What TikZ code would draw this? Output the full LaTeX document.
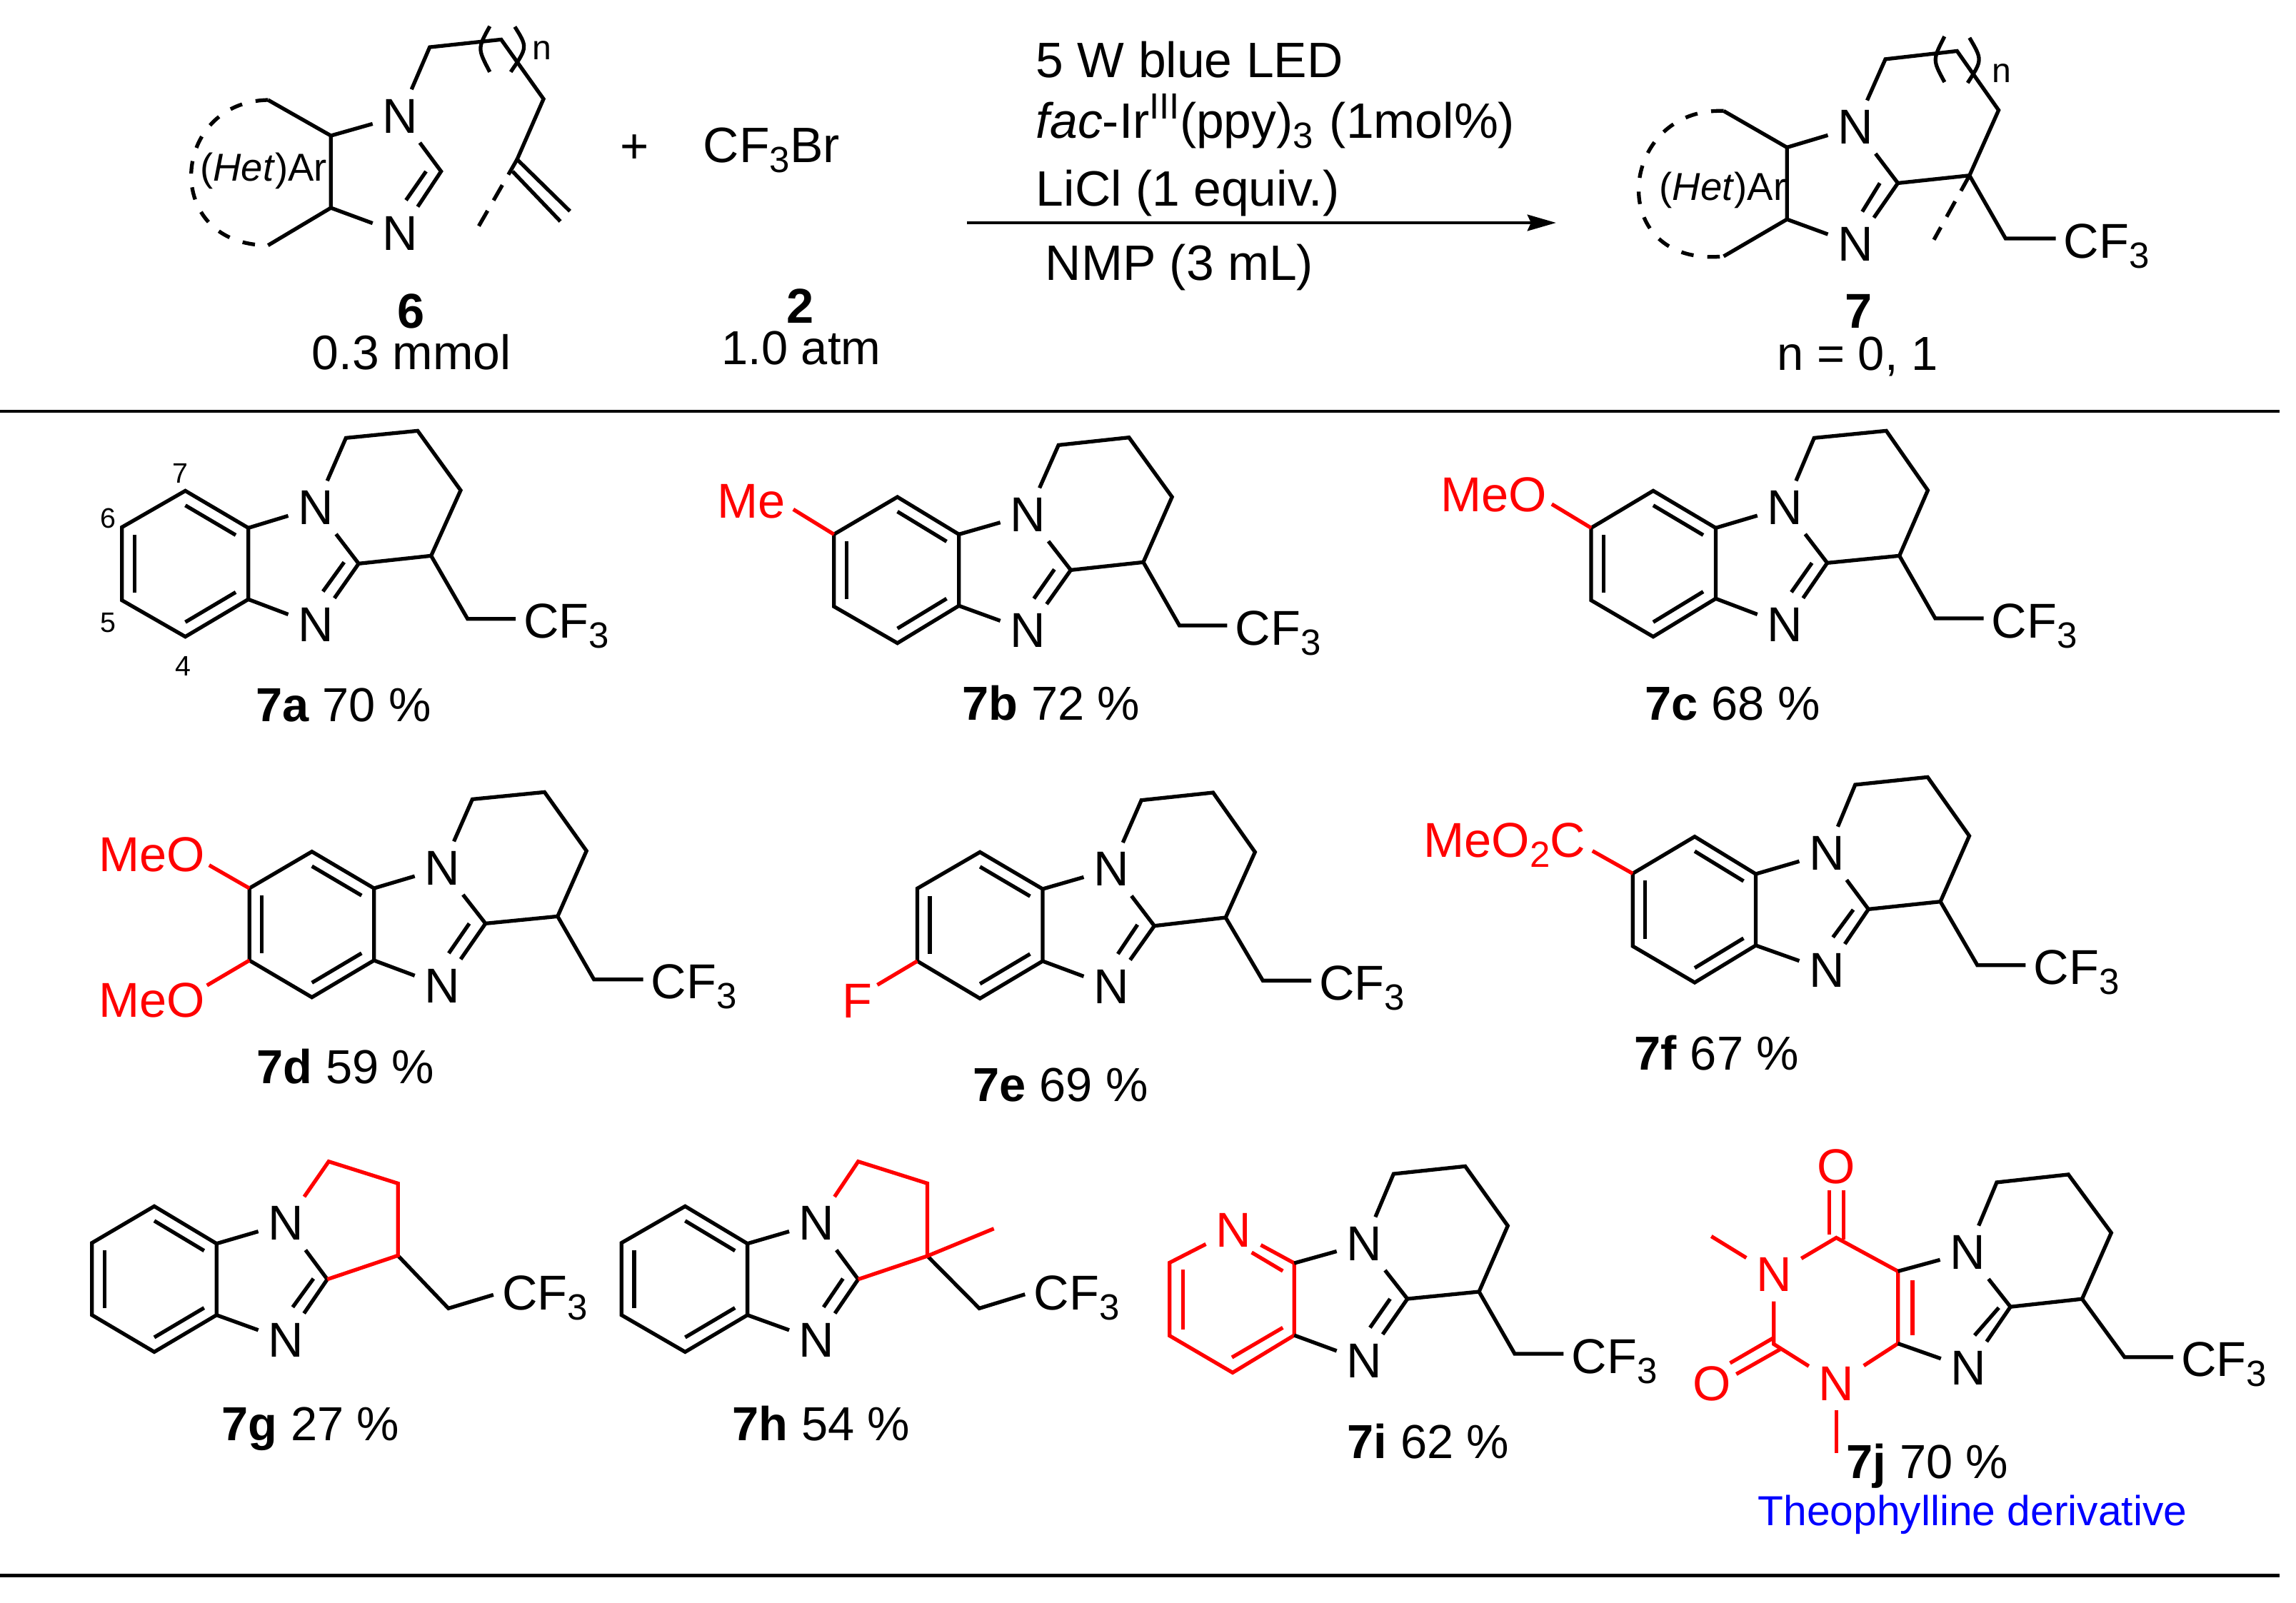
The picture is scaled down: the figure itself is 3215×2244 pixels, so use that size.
\documentclass[tikz,border=0pt]{standalone}
\usepackage{fontspec}
\setmainfont{Liberation Sans}
\usetikzlibrary{calc,arrows.meta}
\newcommand\subs[1]{\raisebox{-4pt}{\fontsize{14.5}{14.5}\selectfont #1}}
\tikzset{
  zf/.style n args={4}{shift={(#1,#2)},x={0.01cm/#3},y={-0.01cm/#4}},
  bond/.style={line width=1.5pt,line join=miter,line cap=butt},
  ringdash/.style={bond,dash pattern=on 5pt off 5.5pt},
  methyldash/.style={bond,dash pattern=on 7pt off 4.8pt},
  atom/.style={inner sep=3.7pt,font=\fontsize{19.5}{22}\selectfont},
  cfnode/.style={anchor=west,xshift=-3pt,inner xsep=3pt,inner ysep=0pt,text height=15.4pt,text depth=0pt,font=\fontsize{19.5}{22}\selectfont},
  grp/.style={anchor=base west,xshift=-1pt,inner sep=0pt,text=red,font=\fontsize{19.5}{22}\selectfont},
  yieldlabel/.style={anchor=base,inner sep=0pt,font=\fontsize{19}{22}\selectfont},
  cond/.style={anchor=base west,xshift=-0.5pt,inner sep=0pt,font=\fontsize{19.8}{24}\selectfont},
  hetar/.style={anchor=base west,inner sep=0pt,font=\fontsize{15.5}{18}\selectfont},
  idx/.style={inner sep=0pt,font=\fontsize{13.7}{16}\selectfont},
  posnum/.style={inner sep=0pt,font=\fontsize{11.2}{13}\selectfont},
  rulebar/.style={line width=1.4pt},
}
\newcommand\verts[2]{\foreach \vn/\vx/\vy in {#2}{\coordinate (#1\vn) at (\vx,\vy);}}
\newcommand\nitrogens[5]{\node[atom] (#1N1) at (#2,#3) {N};\node[atom] (#1N3) at (#4,#5) {N};}
\newcommand\cfthree[3]{\node[cfnode] (#1CF) at (#2,#3) {CF\subs{3}};}
% benzo ring with its three inner double-bond strokes
\newcommand\benzo[1]{%
  \coordinate (#1ctr) at ($(#17)!.5!(#14)$);
  \draw[bond] (#17)--(#16)--(#15)--(#14)--(#13a)--(#17a)--cycle;
  \draw[bond] ($(#17)!.2!(#1ctr)$)--($(#17a)!.2!(#1ctr)$);
  \draw[bond] ($(#16)!.2!(#1ctr)$)--($(#15)!.2!(#1ctr)$);
  \draw[bond] ($(#14)!.2!(#1ctr)$)--($(#13a)!.2!(#1ctr)$);
}
\newcommand\imidazole[1]{%
  \draw[bond] (#17a)--(#1N1);
  \draw[bond] (#13a)--(#1N3);
  \draw[bond] (#1N1)--(#1C2)--(#1N3);
  \draw[bond] (#1I1)--(#1I2);
}
\newcommand\piperidine[1]{%
  \draw[bond] (#1N1)--(#1Cb)--(#1Ca)--(#1C8)--(#1C9)--(#1C2);
  \draw[bond] (#1C9)--(#1CH)--(#1CF.west);
}
\begin{document}
\begin{tikzpicture}[x=0.01cm,y=-0.01cm]
\useasboundingbox (0,0) rectangle (3215,2244);

% ---------- reaction header ----------
\coordinate (ruleAl) at (0,576); \coordinate (ruleAr) at (3192,576);
\coordinate (ruleBl) at (0,2206); \coordinate (ruleBr) at (3192,2206);
\draw[rulebar] (ruleAl)--(ruleAr);
\draw[rulebar] (ruleBl)--(ruleBr);

% substrate 6
\begin{scope}[zf={200}{0}{1.568}{2.8}]
  \verts{r}{Ct/413/532,Cb/413/815,Et/275/392,Eb/275/962,C2/655/672,I1/622/672,I2/578/785,
            Pa/630/185,Pb/787/155,Pc/880/388,Pd/822/625,V1/938/828,V2/812/672,V3/917/868,Vd/735/895,
            Lt/762/103,Lb/762/282,Rt/817/105,Rb/808/282}
  \node[atom] (rN1) at (565,455) {N};
  \node[atom] (rN3) at (565,915) {N};
  \draw[bond] (rEt)--(rCt)--(rCb)--(rEb);
  \draw[bond] (rCt)--(rN1);
  \draw[bond] (rCb)--(rN3);
  \draw[bond] (rN1)--(rC2)--(rN3);
  \draw[bond] (rI1)--(rI2);
  \draw[bond] (rN1)--(rPa)--(rPb)--(rPc)--(rPd)--(rV1);
  \draw[bond] (rV2)--(rV3);
  \draw[methyldash] (rPd)--(rVd);
  \draw[ringdash] (rEt) .. controls (60,400) and (40,960) .. (rEb);
  \draw[bond] (rLt) .. controls (735,190) .. (rLb);
  \draw[bond] (rRt) .. controls (845,185) .. (rRb);
  \node[idx,anchor=base west] (rn) at (855,235) {n};
  \node[hetar] (rhet) at (125,710) {(\textit{Het})Ar};
\end{scope}
\node[inner sep=0pt,font=\fontsize{19.6}{24}\selectfont] (plus) at (889,209) {+};
\node[cond] (cfbr) at (986,227) {CF\subs{3}Br};
\node[yieldlabel,font=\fontsize{19.5}{22}\selectfont\bfseries] (lab6) at (576,459) {6};
\node[yieldlabel,font=\fontsize{19.3}{22}\selectfont] (amt6) at (576,517) {0.3 mmol};
\node[yieldlabel,font=\fontsize{19.5}{22}\selectfont\bfseries] (lab2) at (1121,452) {2};
\node[yieldlabel] (amt2) at (1122,510) {1.0 atm};

% conditions
\coordinate (arrowL) at (1354,312); \coordinate (arrowR) at (2179,312);
\draw[line width=1.4pt,-{Stealth[length=11.4pt,width=6.4pt,inset=1.4pt]}] (arrowL)--(arrowR);
\node[cond] (c1) at (1452,108) {5 W blue LED};
\node[cond] (c2) at (1452,193) {\textit{fac}-Ir\raisebox{7.5pt}{\fontsize{14.5}{14.5}\selectfont III}(ppy)\subs{3}\kern1pt{} (1mol\%)};
\node[cond] (c3) at (1452,288) {LiCl (1 equiv.)};
\node[cond] (c4) at (1465,392) {NMP (3 mL)};

% product 7
\begin{scope}[zf={2200}{0}{1.545}{2.8}]
  \verts{P}{Ct/467/578,Cb/467/860,Et/330/435,Eb/330/1005,C2/707/718,I1/668/718,I2/630/830,
            Pa/680/232,Pb/835/200,Pc/925/432,C9/862/688,CH/940/935,Vd/785/940,
            Lt/808/143,Lb/808/322,Rt/862/148,Rb/858/325}
  \node[atom] (PN1) at (615,498) {N};
  \node[atom] (PN3) at (615,958) {N};
  \cfthree{P}{1065}{935}
  \draw[bond] (PEt)--(PCt)--(PCb)--(PEb);
  \draw[bond] (PCt)--(PN1);
  \draw[bond] (PCb)--(PN3);
  \draw[bond] (PN1)--(PC2)--(PN3);
  \draw[bond] (PI1)--(PI2);
  \draw[bond] (PN1)--(PPa)--(PPb)--(PPc)--(PC9)--(PC2);
  \draw[bond] (PC9)--(PCH)--(PCF.west);
  \draw[methyldash] (PC9)--(PVd);
  \draw[ringdash] (PEt) .. controls (100,420) and (70,1050) .. (PEb);
  \draw[bond] (PLt) .. controls (782,235) .. (PLb);
  \draw[bond] (PRt) .. controls (890,235) .. (PRb);
  \node[idx,anchor=base west] (Pn) at (910,323) {n};
  \node[hetar] (Phet) at (190,785) {(\textit{Het})Ar};
\end{scope}
\node[yieldlabel,font=\fontsize{19.5}{22}\selectfont\bfseries] (lab7) at (2603,459) {7};
\node[yieldlabel] (nval) at (2601,518) {n = 0, 1};

% ---------- 7a ----------
\begin{scope}[zf={80}{580}{1.96}{3}]
  \verts{a}{7/352/322,6/178/475,5/178/782,4/352/935,3a/525/778,7a/525/478,C2/828/628,C9/1027/595,C8/1108/320,Ca/990/70,Cb/793/100,CH/1127/860,I1/788/622,I2/730/745}
  \nitrogens{a}{710}{392}{710}{885}
  \cfthree{a}{1280}{860}
  \benzo{a}\imidazole{a}\piperidine{a}
  \node[posnum] (pos7) at (338,248) {7};
  \node[posnum] (pos6) at (140,437) {6};
  \node[posnum] (pos5) at (140,875) {5};
  \node[posnum] (pos4) at (347,1060) {4};
\end{scope}
\node[yieldlabel] (y7a) at (481,1010) {\textbf{7a} 70 \%};

% ---------- 7b ----------
\begin{scope}[zf={980}{580}{1.742}{3}]
  \verts{b}{7/482/348,6/327/505,5/327/808,4/482/962,3a/632/805,7a/632/505,C2/905/655,C9/1082/622,C8/1152/348,Ca/1047/98,Cb/875/130,CH/1170/888,I1/865/652,I2/815/775,S/228/400}
  \nitrogens{b}{800}{422}{800}{910}
  \cfthree{b}{1305}{888}
  \benzo{b}\imidazole{b}\piperidine{b}
  \node[grp] (bMe) at (47,435) {Me};
  \draw[bond,red] (b6)--(bS);
\end{scope}
\node[yieldlabel] (y7b) at (1472,1008) {\textbf{7b} 72 \%};

% ---------- 7c ----------
\begin{scope}[zf={1980}{580}{1.633}{3}]
  \verts{c}{7/547/322,6/405/478,5/405/782,4/547/935,3a/690/775,7a/690/478,C2/945/625,C9/1110/595,C8/1175/320,Ca/1080/70,Cb/915/100,CH/1192/858,I1/910/625,I2/863/748,S/315/378}
  \nitrogens{c}{848}{392}{848}{885}
  \cfthree{c}{1320}{858}
  \benzo{c}\imidazole{c}\piperidine{c}
  \node[grp] (cMeO) at (65,408) {MeO};
  \draw[bond,red] (c6)--(cS);
\end{scope}
\node[yieldlabel] (y7c) at (2426,1008) {\textbf{7c} 68 \%};

% ---------- 7d ----------
\begin{scope}[zf={100}{1080}{1.633}{3}]
  \verts{d}{7/550/338,6/407/492,5/407/795,4/550/950,3a/692/795,7a/692/492,C2/947/640,C9/1112/610,C8/1178/335,Ca/1082/88,Cb/917/118,CH/1195/875,I1/910/640,I2/863/765,S/315/395,T/310/900}
  \nitrogens{d}{848}{407}{848}{902}
  \cfthree{d}{1325}{875}
  \benzo{d}\imidazole{d}\piperidine{d}
  \node[grp] (dMeOa) at (67,422) {MeO};
  \node[grp] (dMeOb) at (67,1032) {MeO};
  \draw[bond,red] (d6)--(dS);
  \draw[bond,red] (d5)--(dT);
\end{scope}
\node[yieldlabel] (y7d) at (484,1517) {\textbf{7d} 59 \%};

% ---------- 7e ----------
\begin{scope}[zf={1150}{1080}{1.823}{3}]
  \verts{e}{7/405/340,6/245/493,5/245/798,4/405/955,3a/565/798,7a/565/495,C2/850/650,C9/1032/615,C8/1107/340,Ca/1000/90,Cb/817/122,CH/1127/880,I1/807/645,I2/757/768,S/143/898}
  \nitrogens{e}{740}{412}{740}{905}
  \cfthree{e}{1270}{880}
  \benzo{e}\imidazole{e}\piperidine{e}
  \node[grp] (eF) at (58,1035) {F};
  \draw[bond,red] (e5)--(eS);
\end{scope}
\node[yieldlabel] (y7e) at (1485,1542) {\textbf{7e} 69 \%};

% ---------- 7f ----------
\begin{scope}[zf={1960}{1080}{1.508}{3}]
  \verts{f}{7/623/275,6/492/430,5/492/735,4/623/888,3a/752/732,7a/752/432,C2/990/580,C9/1142/548,C8/1203/272,Ca/1115/25,Cb/962/57,CH/1220/815,I1/958/582,I2/915/698,S/407/335}
  \nitrogens{f}{902}{345}{902}{838}
  \cfthree{f}{1338}{815}
  \benzo{f}\imidazole{f}\piperidine{f}
  \node[grp] (fEst) at (55,362) {MeO\subs{2}C};
  \draw[bond,red] (f6)--(fS);
\end{scope}
\node[yieldlabel] (y7f) at (2404,1498) {\textbf{7f} 67 \%};

% ---------- 7g and 7h ----------
\begin{scope}[zf={90}{1580}{1.0316}{3}]
  \verts{g}{7/130/328,6/40/482,5/40/785,4/130/940,3a/220/785,7a/220/485,C2/380/635,C9/482/535,Cx/482/232,Cb/382/140,CH/555/757,I1/360/632,I2/330/752,E/620/700}
  \nitrogens{g}{320}{400}{320}{890}
  \cfthree{g}{632}{681}
  \benzo{g}\imidazole{g}
  \draw[bond] (gC9)--(gCH)--(gE);
  \draw[bond,red] (gN1)--(gCb)--(gCx)--(gC9)--(gC2);

  \verts{h}{7/897/328,6/805/482,5/805/785,4/897/940,3a/987/785,7a/987/485,C2/1147/635,C9/1247/537,Cx/1247/232,Cb/1147/140,Me/1343/422,CH/1322/757,I1/1125/632,I2/1097/752,E/1388/698}
  \nitrogens{h}{1087}{400}{1087}{890}
  \cfthree{h}{1400}{681}
  \benzo{h}\imidazole{h}
  \draw[bond] (hC9)--(hCH)--(hE);
  \draw[bond,red] (hN1)--(hCb)--(hCx)--(hC9)--(hC2);
  \draw[bond,red] (hC9)--(hMe);
\end{scope}
\node[yieldlabel] (y7g) at (435,2017) {\textbf{7g} 27 \%};
\node[yieldlabel] (y7h) at (1150,2017) {\textbf{7h} 54 \%};

% ---------- 7i ----------
\begin{scope}[zf={1600}{1600}{2.063}{3}]
  \verts{i}{6/78/505,5/78/812,4/260/967,3a/438/810,7a/438/507,C2/765/657,C9/972/627,C8/1055/350,Ca/932/100,Cb/725/132,CH/1075/888,I1/715/657,I2/657/778,
            Ra/117/535,Rb/117/785,Rc/258/903,Rd/405/778,Re/315/462,Rf/405/540}
  \node[atom,text=red] (iNp) at (262,368) {N};
  \nitrogens{i}{640}{425}{640}{918}
  \cfthree{i}{1238}{888}
  \draw[bond,red] (iNp)--(i6)--(i5)--(i4)--(i3a)--(i7a)--(iNp);
  \draw[bond,red] (iRa)--(iRb);
  \draw[bond,red] (iRc)--(iRd);
  \draw[bond,red] (iRe)--(iRf);
  \imidazole{i}\piperidine{i}
\end{scope}
\node[yieldlabel] (y7i) at (2000,2042) {\textbf{7i} 62 \%};

% ---------- 7j ----------
\begin{scope}[zf={2300}{1560}{1.7137}{2.45}]
  \verts{j}{3a/613/788,7a/613/540,CO/465/425,CQ/315/790,C2/883/662,C9/1055/635,C8/1125/408,Ca/1022/208,Cb/850/235,CH/1157/835,I1/855/665,I2/797/760,
            Ra/648/570,Rb/648/760,Da/448/262,Db/448/415,Dc/482/262,Dd/482/430,
            Qa/315/768,Qb/210/855,Qc/330/808,Qd/225/893,Ma/165/420,Mb/465/1165}
  \node[atom,text=red] (jNa) at (315,552) {N};
  \node[atom,text=red] (jNb) at (465,925) {N};
  \node[atom,text=red,inner sep=0pt] (jOa) at (465,180) {O};
  \node[atom,text=red,inner sep=0pt] (jOb) at (167,925) {O};
  \nitrogens{j}{780}{475}{782}{873}
  \cfthree{j}{1292}{835}
  \draw[bond,red] (jNa)--(jCO)--(j7a)--(j3a)--(jNb)--(jCQ)--(jNa);
  \draw[bond,red] (jRa)--(jRb);
  \draw[bond,red] (jDa)--(jDb);
  \draw[bond,red] (jDc)--(jDd);
  \draw[bond,red] (jQa)--(jQb);
  \draw[bond,red] (jQc)--(jQd);
  \draw[bond,red] (jNa)--(jMa);
  \draw[bond,red] (jNb)--(jMb);
  \imidazole{j}\piperidine{j}
\end{scope}
\node[yieldlabel] (y7j) at (2699,2070) {\textbf{7j} 70 \%};
\node[yieldlabel,text=blue,font=\fontsize{16.7}{20}\selectfont] (theo) at (2762,2136) {Theophylline derivative};
\end{tikzpicture}
\end{document}
